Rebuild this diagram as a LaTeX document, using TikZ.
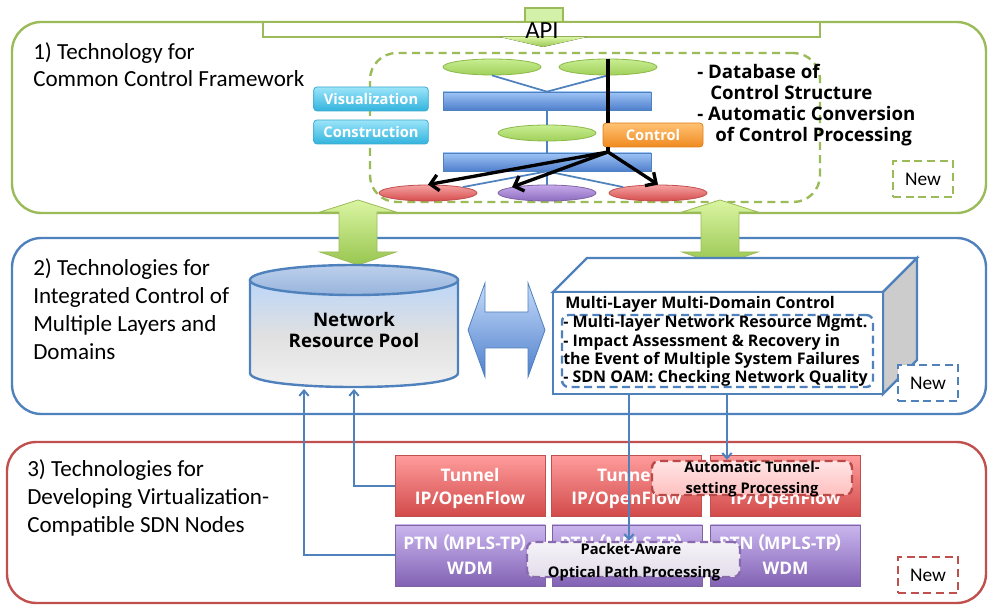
\documentclass[tikz,border=0pt]{standalone}
\usepackage{fontspec}
\setmainfont{Carlito}
\newfontfamily\ob{Open Sans}
\newfontfamily\cjk{Noto Sans CJK JP}
\usetikzlibrary{shapes.geometric,arrows.meta}
\definecolor{gfr}{HTML}{9BBB59}
\definecolor{bfr}{HTML}{4F81BD}
\definecolor{rfr}{HTML}{C0504D}
\definecolor{pfr}{HTML}{8064A2}
\definecolor{gtop}{HTML}{C8EE92}
\definecolor{gbot}{HTML}{A0D05A}
\definecolor{gedge}{HTML}{8DB84A}
\definecolor{atop}{HTML}{DAF5A2}
\definecolor{abot}{HTML}{98C650}
\definecolor{rtop}{HTML}{F5A2A2}
\definecolor{rbot}{HTML}{D64C4C}
\definecolor{ptop}{HTML}{C6AAEA}
\definecolor{pbot}{HTML}{8C6CC0}
\definecolor{btop}{HTML}{9EC4F6}
\definecolor{bbot}{HTML}{4F7FCC}
\definecolor{ctop}{HTML}{9BE5F9}
\definecolor{cbot}{HTML}{31B3DD}
\definecolor{cedge}{HTML}{3FA9CF}
\definecolor{otop}{HTML}{FFC274}
\definecolor{obot}{HTML}{F08A20}
\definecolor{oedge}{HTML}{E0801E}
\definecolor{tuntop}{HTML}{FF9C9C}
\definecolor{tunbot}{HTML}{D24A4A}
\definecolor{ptntop}{HTML}{CAB6EE}
\definecolor{ptnbot}{HTML}{8262B4}
\definecolor{dred}{HTML}{B94A48}
\definecolor{dpur}{HTML}{8A6AAE}
\definecolor{cyltop}{HTML}{BCD0EC}
\definecolor{cylbot}{HTML}{98B4DC}
\begin{document}
\begin{tikzpicture}[x=0.75pt,y=-0.75pt,
  frame/.style={rectangle, rounded corners=22pt, line width=1.8pt, inner sep=0},
  lbl/.style={anchor=base west, inner sep=0, font=\fontsize{17.3}{21}\selectfont},
  bt/.style={inner sep=0, font=\ob\bfseries\fontsize{#1}{#1}\selectfont},
  ell/.style={ellipse, minimum width=73.5pt, minimum height=12pt, inner sep=0, line width=0.6pt},
  gell/.style={ell, top color=gtop, bottom color=gbot, draw=gedge},
  rell/.style={ell, top color=rtop, bottom color=rbot, draw=rfr},
  pell/.style={ell, top color=ptop, bottom color=pbot, draw=pfr},
  bar/.style={rectangle, minimum width=156pt, minimum height=13.5pt, inner sep=0,
    top color=btop, bottom color=bbot, draw=bfr, line width=0.5pt},
  cyanbox/.style={rectangle, rounded corners=2.5pt, minimum width=86pt, minimum height=18pt,
    inner sep=0, top color=ctop, bottom color=cbot, draw=cedge, line width=0.6pt,
    text=white, font=\ob\bfseries\fontsize{11}{13}\selectfont},
  orangebox/.style={cyanbox, minimum width=75pt, top color=otop, bottom color=obot, draw=oedge},
  newbox/.style={rectangle, minimum width=45pt, minimum height=27pt, inner sep=0, fill=white,
    line width=1.8pt, dash pattern=on 6pt off 3.5pt, font=\fontsize{14.5}{16}\selectfont},
  garrow/.style={top color=atop, bottom color=abot, draw=gfr, line width=0.6pt},
  tunbox/.style={rectangle, minimum width=112.5pt, minimum height=45.75pt, inner sep=0,
    top color=tuntop, bottom color=tunbot, draw=rfr, line width=0.6pt},
  ptnbox/.style={tunbox, top color=ptntop, bottom color=ptnbot, draw=pfr},
  wt/.style={bt=13, text=white, anchor=base},
  thinb/.style={bfr, line width=1.3pt},
  barr/.style={bfr, line width=1.5pt, -{Straight Barb[length=4pt,width=7pt]}},
  blk/.style={line width=2.5pt, -{Straight Barb[length=6pt,width=12pt]}},
  ovl/.style={rectangle, rounded corners=5pt, inner sep=0, line width=1.8pt,
    dash pattern=on 6pt off 3.5pt}
]
\useasboundingbox (0,0) rectangle (989,605);

% frames
\node[frame, draw=gfr, minimum width=730.5pt, minimum height=143.25pt] (f1) at (499,117.5) {};
\node[frame, draw=bfr, minimum width=730.5pt, minimum height=132pt] (f2) at (499,326) {};
\node[frame, draw=rfr, minimum width=734.25pt, minimum height=120.75pt] (f3) at (496.5,522.5) {};

% API
\node[rectangle, inner sep=0, minimum width=28.5pt, minimum height=10.5pt, fill=gtop!80!white, draw=gfr, line width=0.8pt] (apitab) at (544,15) {};
\node[rectangle, inner sep=0, minimum width=417.75pt, minimum height=11.25pt, fill=white, draw=gfr, line width=1.8pt] (apibar) at (541.5,29.5) {};
\fill[top color=atop, bottom color=abot] (500,37) -- (587,37) -- (543,47) -- cycle;
\node[anchor=base, inner sep=0, font=\fontsize{18.5}{20}\selectfont] (api) at (542,39) {API};

% frame labels
\node[lbl] (l1a) at (33,60) {1) Technology for};
\node[lbl] (l1b) at (33,87) {Common Control Framework};
\node[lbl] (l2a) at (33,276) {2) Technologies for};
\node[lbl] (l2b) at (33,304) {Integrated Control of};
\node[lbl] (l2c) at (33,332) {Multiple Layers and};
\node[lbl] (l2d) at (33,360) {Domains};
\node[lbl] (l3a) at (27,477) {3) Technologies for};
\node[lbl] (l3b) at (27,505) {Developing Virtualization-};
\node[lbl] (l3c) at (27,533) {Compatible SDN Nodes};

% common control framework
\node[rectangle, rounded corners=20pt, minimum width=337.5pt, minimum height=111.75pt, inner sep=0,
  draw=gfr, line width=1.8pt, dash pattern=on 6pt off 4pt] (ccf) at (595,127.5) {};
\node[gell] (e1) at (492,67) {};
\node[gell] (e2) at (608,67) {};
\node[bar] (bar1) at (547,101) {};
\node[gell] (em) at (547,133) {};
\node[bar] (bar2) at (547,162) {};
\node[rell] (r1) at (428,193) {};
\node[pell] (pu) at (547,193) {};
\node[rell] (r2) at (658,193) {};
\draw[thinb] (e1.south) -- (bar1.north);
\draw[thinb] (e2.south) -- (bar1.north);
\draw[thinb] (bar1.south) -- (em.north);
\draw[thinb] (em.south) -- (bar2.north);
\draw[thinb] (bar2.south) -- (pu.north);
\draw[thinb] (bar2.south) -- (r1.north east);
\draw[thinb] (bar2.south) -- (r2.north west);

\node[cyanbox] (vis) at (371,99) {Visualization};
\node[cyanbox] (con) at (371,132) {Construction};
\node[orangebox] (ctrl) at (653,135) {Control};

\coordinate (cj) at (608,152);
\draw[line width=2.5pt] (e2.north) -- (e2.north |- ctrl.north);
\draw[line width=2.5pt] (e2.north |- ctrl.south) -- (cj);
\draw[blk] (cj) -- (r1.north);
\draw[blk] (cj) -- (pu.north west);
\draw[blk] (cj) -- (r2.north);

\node[bt=14, anchor=base west] (t1) at (697,79) {- Database of};
\node[bt=14, anchor=base west] (t2) at (710,100) {Control Structure};
\node[bt=14, anchor=base west] (t3) at (697,121) {- Automatic Conversion};
\node[bt=14, anchor=base west] (t4) at (715,142) {of Control Processing};

\node[newbox, draw=gfr] (new1) at (923,179) {New};

% green double arrows
\draw[garrow, shift={(358,0)}] (0,200) -- (38,212) -- (19,212) -- (19,252) -- (38,252) -- (0,265)
  -- (-38,252) -- (-19,252) -- (-19,212) -- (-38,212) -- cycle;
\draw[garrow, shift={(720,0)}] (0,200) -- (38,212) -- (19,212) -- (19,252) -- (38,252) -- (0,265)
  -- (-38,252) -- (-19,252) -- (-19,212) -- (-38,212) -- cycle;

% cylinder
\path[top color=btop!70!white, bottom color=white!95!black, middle color=black!12!white]
  (250,280) -- (250,373) .. controls (250,391.7) and (458,391.7) .. (458,373) -- (458,280) -- cycle;
\draw[bfr, line width=1.8pt] (250,280) -- (250,373) .. controls (250,391.7) and (458,391.7) .. (458,373) -- (458,280);
\draw[bfr, line width=1.8pt, top color=cyltop, bottom color=cylbot] (354,280) ellipse [x radius=104, y radius=15];
\node[bt=14, anchor=base] (pool) at (354,327) {Network};
\node[bt=14, anchor=base] (pool2) at (354,348) {Resource Pool};
\coordinate (pb1) at (354,389);
\coordinate (pb2) at (304,389);

% blue double arrow
\draw[top color=btop!60!white, bottom color=bbot, draw=bfr, line width=0.6pt]
  (468,330) -- (485,283) -- (485,312) -- (528,312) -- (528,283) -- (545,330)
  -- (528,377) -- (528,348) -- (485,348) -- (485,377) -- cycle;

% 3D box
\draw[bfr, line width=1.8pt, fill=white] (553,292) -- (587,258) -- (917,258) -- (883,292) -- cycle;
\draw[bfr, line width=1.8pt, fill=black!20!white] (883,292) -- (917,258) -- (917,360) -- (883,394) -- cycle;
\node[rectangle, inner sep=0, minimum width=247.5pt, minimum height=76.5pt, fill=white, draw=bfr, line width=1.8pt] (mlmd) at (718,343) {};
\node[ovl, draw=bfr, minimum width=233.25pt, minimum height=54pt] (mlin) at (717.5,351) {};
\node[bt=12, anchor=base west] (m0) at (565,309) {Multi-Layer Multi-Domain Control};
\node[bt=12, anchor=base west] (ma) at (563,328) {- Multi-layer Network Resource Mgmt.};
\node[bt=12, anchor=base west] (mb) at (563,346.5) {- Impact Assessment \& Recovery in};
\node[bt=12, anchor=base west] (mc) at (563,364.5) {the Event of Multiple System Failures};
\node[bt=12, anchor=base west] (md) at (563,383) {- SDN OAM: Checking Network Quality};
\node[newbox, draw=bfr] (new2) at (928,383) {New};
\coordinate (m1) at (629,394);
\coordinate (m2) at (727,394);

% SDN nodes
\node[tunbox] (tun1) at (470,486) {};
\node[tunbox] (tun2) at (626.5,486) {};
\node[tunbox] (tun3) at (785.5,486) {};
\node[ptnbox] (ptn1) at (470,555.5) {};
\node[ptnbox] (ptn2) at (627,555.5) {};
\node[ptnbox] (ptn3) at (785.5,555.5) {};
\foreach \n/\x in {a/470,b/626.5,c/785.5}{
  \node[wt] (tt\n) at (\x,482) {Tunnel};
  \node[wt] (ti\n) at (\x,505) {IP/OpenFlow};
  \node[wt] (pt\n) at (\x,550) {PTN\hspace{-0.3em}{\cjk（}\hspace{-0.1em}MPLS-TP\hspace{-0.1em}{\cjk）}\hspace{-0.45em}};
  \node[wt] (pw\n) at (\x,575) {WDM};
}

\draw[barr] (tun1.west) -| (pb1);
\draw[barr] (ptn1.west) -| (pb2);

\node[ovl, draw=dred, top color=red!10!white, bottom color=red!25!white, minimum width=150pt, minimum height=25.5pt] (auto) at (752,478) {};
\node[bt=11, anchor=base] (au1) at (752,473) {Automatic Tunnel-};
\node[bt=11, anchor=base] (au2) at (752,494) {setting Processing};

\node[ovl, draw=dpur, top color=pfr!8!white, bottom color=pfr!22!white, minimum width=159.75pt, minimum height=26.25pt] (pkt) at (633.5,559.5) {};
\node[bt=11, anchor=base] (pk1) at (631,555) {Packet-Aware};
\node[bt=11, anchor=base] (pk2) at (634,577) {Optical Path Processing};

\draw[barr] (m1) -- (m1 |- pkt.north);
\draw[barr] (m2) -- (m2 |- auto.north);

\node[newbox, draw=rfr] (new3) at (928,575) {New};
\end{tikzpicture}
\end{document}
